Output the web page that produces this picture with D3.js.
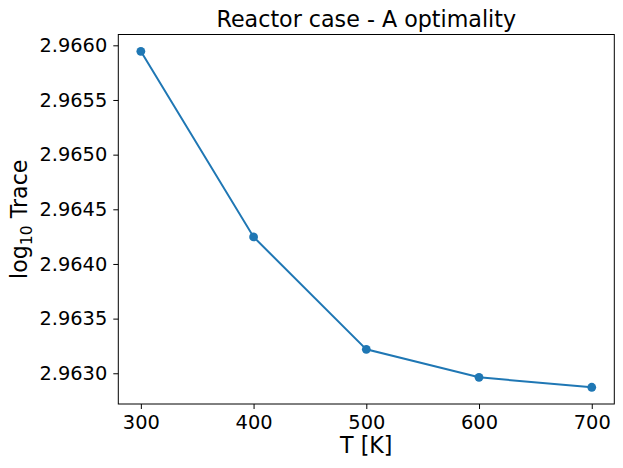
<!DOCTYPE html>
<html><head><meta charset="utf-8">
<script src="https://cdn.jsdelivr.net/npm/d3@7"></script>
<style>body{margin:0;background:#fff}svg{display:block}text{font-family:"DejaVu Sans",sans-serif}</style>
</head><body>
<script>
const temps = [300, 400, 500, 600, 700];
const logTrace = [2.965945, 2.964247, 2.963219, 2.962963, 2.962872];
const xTicks = [300, 400, 500, 600, 700];
const yTicks = [2.9630, 2.9635, 2.9640, 2.9645, 2.9650, 2.9655, 2.9660];
const title = "Reactor case - A optimality";

const W = 623, H = 468;
const m = {left: 118.3, right: 614.3, top: 34.5, bottom: 404};
const svg = d3.select("body").append("svg").attr("width", W).attr("height", H);
const x = d3.scaleLinear().domain([280, 720]).range([m.left, m.right]);
const y = d3.scaleLinear().domain([2.962719, 2.966099]).range([m.bottom, m.top]);
const color = "#1f77b4";

const xa = svg.append("g").attr("transform", `translate(0,${m.bottom})`)
  .call(d3.axisBottom(x).tickValues(xTicks).tickSize(5).tickPadding(6).tickFormat(d3.format("d")));
const ya = svg.append("g").attr("transform", `translate(${m.left},0)`)
  .call(d3.axisLeft(y).tickValues(yTicks).tickSize(5).tickPadding(6).tickFormat(d3.format(".4f")));
[xa, ya].forEach(a => {
  a.select(".domain").remove();
  a.selectAll(".tick line").attr("stroke", "#000").attr("stroke-width", 1);
  a.selectAll(".tick text").attr("fill", "#000").style("font-size", "19.4px");
});

svg.append("rect").attr("x", m.left).attr("y", m.top)
  .attr("width", m.right - m.left).attr("height", m.bottom - m.top)
  .attr("fill", "none").attr("stroke", "#000").attr("stroke-width", 1);

const data = temps.map((t, i) => ({t, v: logTrace[i]}));
svg.append("path").datum(data)
  .attr("d", d3.line().x(d => x(d.t)).y(d => y(d.v)))
  .attr("fill", "none").attr("stroke", color).attr("stroke-width", 2);
svg.selectAll("circle.pt").data(data).join("circle").attr("class", "pt")
  .attr("cx", d => x(d.t)).attr("cy", d => y(d.v)).attr("r", 4.4).attr("fill", color);

svg.append("text").attr("x", (m.left + m.right) / 2).attr("y", 26.5)
  .attr("text-anchor", "middle").style("font-size", "22.2px").text(title);
svg.append("text").attr("x", (m.left + m.right) / 2).attr("y", 453)
  .attr("text-anchor", "middle").style("font-size", "22.2px").text("T [K]");
const yl = svg.append("text")
  .attr("transform", `translate(26.5,${(m.top + m.bottom) / 2}) rotate(-90)`)
  .attr("text-anchor", "middle").style("font-size", "22.2px");
yl.append("tspan").text("log");
yl.append("tspan").attr("dy", 5).style("font-size", "15.5px").text("10");
yl.append("tspan").attr("dy", -5).text(" Trace");
</script>
</body></html>
